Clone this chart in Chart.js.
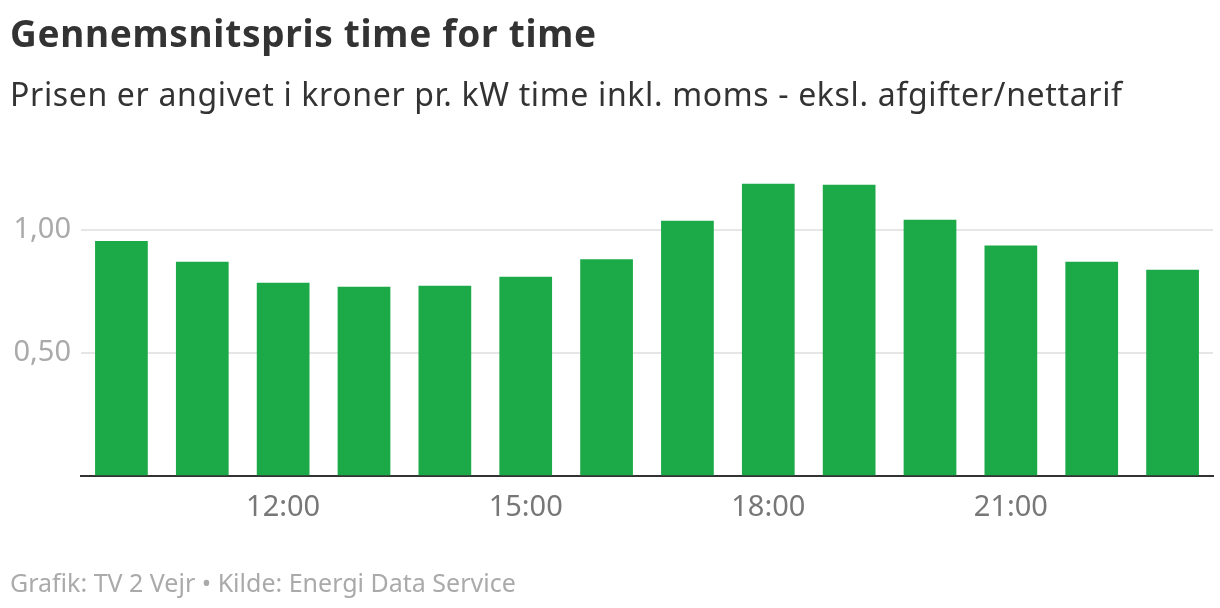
<!DOCTYPE html>
<html>
<head>
<meta charset="utf-8">
<script src="https://cdn.jsdelivr.net/npm/chart.js@4"></script>
<style>
body{margin:0;background:#fff;font-family:"Noto Sans",sans-serif}
#wrap{position:relative;width:1220px;height:608px;overflow:hidden}
#chart{position:absolute;left:0;top:0}
.title{position:absolute;left:10px;top:7px;font-size:37px;letter-spacing:0.7px;font-weight:700;color:#333;white-space:nowrap}
.sub{position:absolute;left:10px;top:72px;font-size:32px;letter-spacing:0.65px;color:#333;white-space:nowrap}
.foot{position:absolute;left:10px;top:565px;font-size:25px;color:#aaa;white-space:nowrap}
</style>
</head>
<body>
<div id="wrap">
<canvas id="chart" width="1220" height="608"></canvas>
<div class="title">Gennemsnitspris time for time</div>
<div class="sub">Prisen er angivet i kroner pr. kW time inkl. moms - eksl. afgifter/nettarif</div>
<div class="foot">Grafik: TV 2 Vejr • Kilde: Energi Data Service</div>
</div>
<script>
// hours shown on the x axis
let hours=["10:00","11:00","12:00","13:00","14:00","15:00","16:00","17:00","18:00","19:00","20:00","21:00","22:00","23:00"]
// average price kr/kWh
let prices=[0.956,0.871,0.785,0.769,0.773,0.810,0.881,1.038,1.189,1.185,1.042,0.937,0.871,0.838]
let yTicks=[0.5,1.0]
let shownHours=["12:00","15:00","18:00","21:00"]

let ctx=document.getElementById("chart").getContext("2d")
new Chart(ctx,{
    type:'bar',
    data:{
        labels:hours,
        datasets:[{
            data:prices,
            backgroundColor:'#1baa47',
            barPercentage:0.652,
            categoryPercentage:1
        }]
    },
    options:{
        responsive:false,
        animation:false,
        layout:{padding:{top:181,left:0,right:7,bottom:0}},
        plugins:{legend:{display:false},tooltip:{enabled:false}},
        scales:{
            x:{
                z:1,
                grid:{display:false,drawTicks:false},
                border:{display:true,color:'#333',width:2},
                afterFit:s=>{s.height=132.5},
                ticks:{
                    autoSkip:false,maxRotation:0,padding:15,
                    color:'#777',font:{family:'Noto Sans',size:29},
                    callback:function(v,i){let l=this.getLabelForValue(v);return shownHours.includes(l)?l:''}
                }
            },
            y:{
                min:0,max:1.2,
                afterBuildTicks:s=>{s.ticks=yTicks.map(v=>({value:v}))},
                afterFit:s=>{s.width=81},
                grid:{color:'#e6e6e6',lineWidth:2,drawTicks:false},
                border:{display:false},
                ticks:{
                    padding:10,color:'#aaa',font:{family:'Noto Sans',size:29},
                    callback:v=>v.toFixed(2).replace('.',',')
                }
            }
        }
    }
})
</script>
</body>
</html>
